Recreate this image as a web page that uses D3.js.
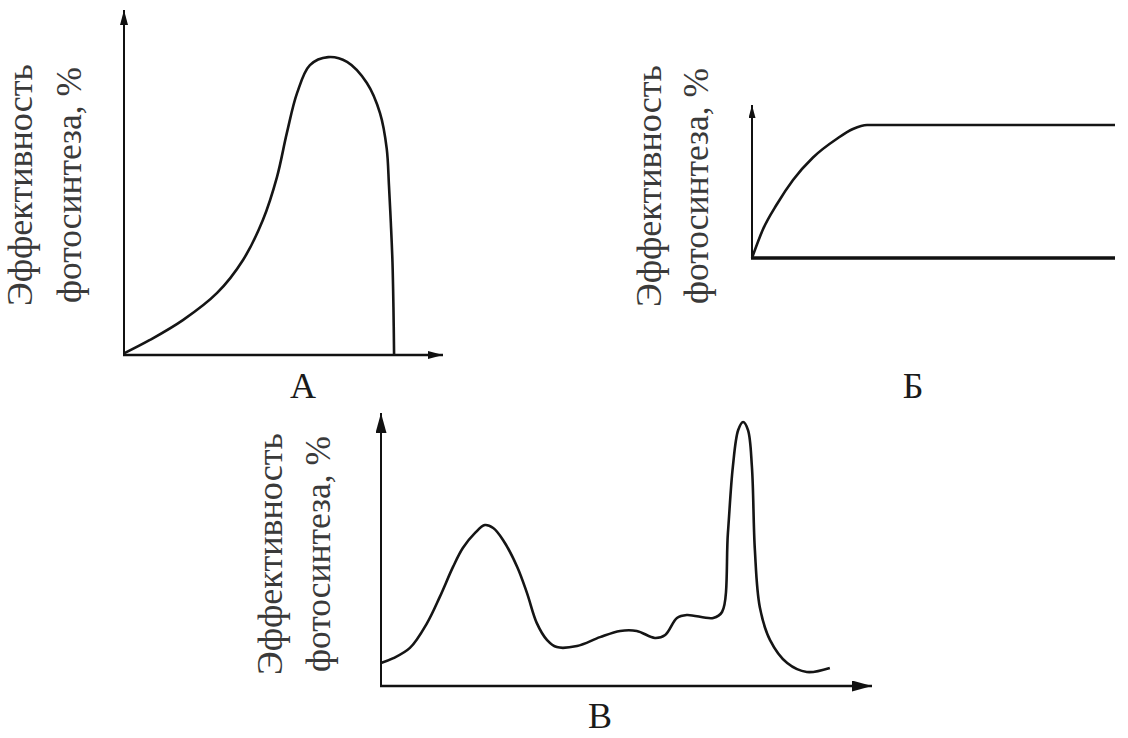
<!DOCTYPE html>
<html>
<head>
<meta charset="utf-8">
<script src="https://cdn.jsdelivr.net/npm/d3@7"></script>
<style>
  body { margin: 0; background: #fff; }
  svg { display: block; }
</style>
</head>
<body>
<svg width="1128" height="738"></svg>
<script>
// curve A: efficiency vs temperature (x, y in 0..100)
const aX = [0, 8.1, 18.4, 29.1, 37.2, 43.4, 47.8, 50.9, 54.1, 58.1, 63.8, 69.7, 75.9, 80, 82.1, 82.8, 83.4, 83.9, 84.2, 84.4];
const aY = [0.5, 4.7, 10.9, 19.4, 29.7, 42.2, 55.6, 69.4, 81.9, 90.6, 93.1, 91.6, 85, 75.6, 64.5, 53, 41, 29, 15, 0];

// curve Б: efficiency vs light intensity
const bX = [0, 3, 6.9, 11.3, 16.8, 23.4, 27.8, 31.7, 45, 100];
const bY = [0, 19, 36, 52, 67, 79.5, 86, 88.7, 88.7, 88.7];

// curve В: efficiency vs wavelength
const cX = [0, 2.4, 5.9, 9.4, 12, 14.7, 16.7, 19.2, 21.2, 22.9, 24.9, 27.8, 29.8, 31.8, 33.9, 35.9, 40, 44.7, 48.8, 52.2, 55.9, 58, 60.4, 62.4, 67.8, 69.6, 70.8, 71.8, 72.9, 73.9, 74.9, 75.7, 76.3, 77.3, 79.4, 82.9, 86.9, 91.6];
const cY = [8.5, 10.2, 14.1, 23.3, 33, 44.1, 51.1, 56.7, 59.6, 58.5, 54.1, 44.1, 34.4, 23.3, 17, 14.4, 14.8, 18.1, 20.4, 20.4, 17.8, 18.9, 25.2, 26.3, 25.2, 27.4, 56.7, 81.1, 94.8, 97.8, 94.8, 81.1, 50.4, 29.3, 17, 8.5, 5.2, 6.7];

const yLines = ['Эффективность', 'фотосинтеза, %'];
const panelNames = ['А', 'Б', 'В'];
const serifFont = '"Liberation Serif", "Times New Roman", Times, "DejaVu Serif", serif';

const svg = d3.select('svg');

const defs = svg.append('defs');
const addArrow = (id, w, h) => {
    defs.append('marker')
        .attr('id', id)
        .attr('viewBox', `0 ${-h / 2} ${w} ${h}`)
        .attr('refX', w).attr('refY', 0)
        .attr('markerUnits', 'userSpaceOnUse')
        .attr('markerWidth', w).attr('markerHeight', h)
        .attr('orient', 'auto')
        .append('path')
        .attr('d', `M0,${-h / 2}L${w},0L0,${h / 2}Z`)
        .attr('fill', '#111');
};
addArrow('arrA', 15, 8);
addArrow('arrB', 13, 7);
addArrow('arrC', 20, 11);

const layout = [
    { xr: [124, 444], yr: [355, 35], top: 10, right: 443, arrow: 'arrA', xArrow: true,
      curve: d3.curveCatmullRom, lab: [32, 81], labY: 185, name: [303, 398], axisW: 2.6 },
    { xr: [752, 1115], yr: [258, 108], top: 105, right: 1115, arrow: 'arrB', xArrow: false,
      curve: d3.curveMonotoneX, lab: [661, 708], labY: 186, name: [913, 398], axisW: 3.4 },
    { xr: [381, 871], yr: [686, 416], top: 413, right: 872, arrow: 'arrC', xArrow: true,
      curve: d3.curveCatmullRom, lab: [282, 330], labY: 554, name: [600, 728], axisW: 2.6 }
];
const series = [[aX, aY], [bX, bY], [cX, cY]];

layout.forEach((p, i) => {
    const xScale = d3.scaleLinear().domain([0, 100]).range(p.xr);
    const yScale = d3.scaleLinear().domain([0, 100]).range(p.yr);
    const g = svg.append('g');

    // y axis
    g.append('line')
        .attr('x1', xScale(0)).attr('y1', yScale(0))
        .attr('x2', xScale(0)).attr('y2', p.top)
        .attr('stroke', '#111').attr('stroke-width', 2)
        .attr('marker-end', `url(#${p.arrow})`);

    // x axis
    g.append('line')
        .attr('x1', xScale(0) - 1).attr('y1', yScale(0))
        .attr('x2', p.right).attr('y2', yScale(0))
        .attr('stroke', '#111').attr('stroke-width', p.axisW)
        .attr('marker-end', p.xArrow ? `url(#${p.arrow})` : null);

    const [xs, ys] = series[i];
    const pts = xs.map((x, k) => [x, ys[k]]);
    const line = d3.line()
        .x(d => xScale(d[0]))
        .y(d => yScale(d[1]))
        .curve(p.curve);

    g.append('path')
        .attr('d', line(pts))
        .attr('fill', 'none')
        .attr('stroke', '#151515')
        .attr('stroke-width', 2.6)
        .attr('stroke-linejoin', 'round');

    yLines.forEach((t, k) => {
        g.append('text')
            .attr('transform', `translate(${p.lab[k]},${p.labY}) rotate(-90)`)
            .attr('text-anchor', 'middle')
            .attr('font-family', serifFont)
            .style('font-family', serifFont)
            .attr('font-size', 35)
            .attr('fill', '#3a3a3a')
            .attr('textLength', k === 0 ? 242 : 236)
            .attr('lengthAdjust', 'spacingAndGlyphs')
            .text(t);
    });

    g.append('text')
        .attr('x', p.name[0]).attr('y', p.name[1])
        .attr('text-anchor', 'middle')
        .attr('font-family', serifFont)
        .style('font-family', serifFont)
        .attr('font-size', 36)
        .attr('fill', '#1a1a1a')
        .text(panelNames[i]);
});
</script>
</body>
</html>
